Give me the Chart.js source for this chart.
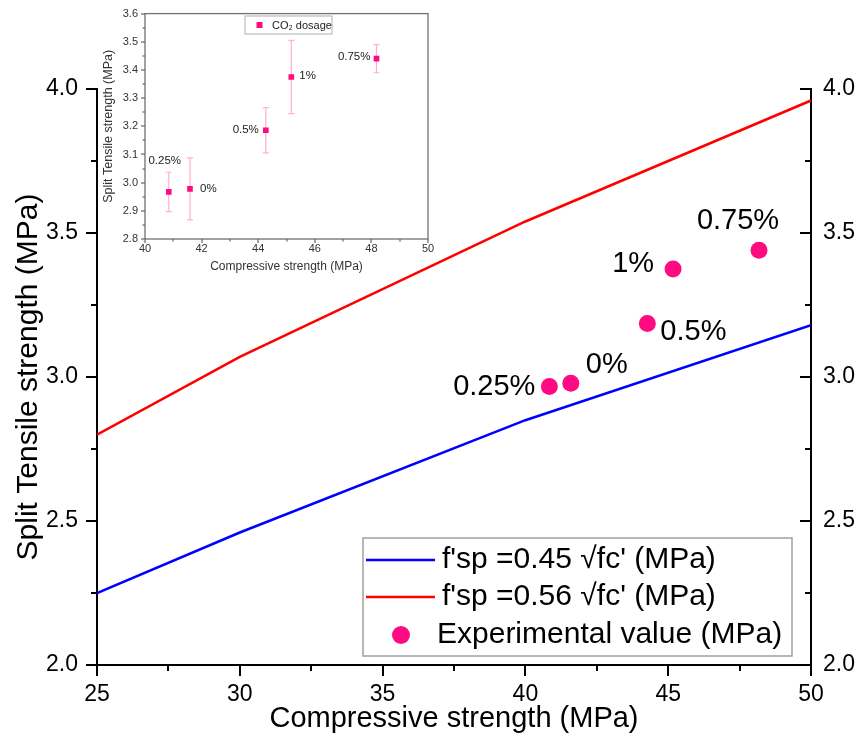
<!DOCTYPE html>
<html>
<head>
<meta charset="utf-8">
<script src="https://cdn.jsdelivr.net/npm/chart.js@4.4.1/dist/chart.umd.min.js"></script>
<style>
  html, body { margin: 0; padding: 0; background: #fff; }
  #wrap { position: relative; width: 858px; height: 746px; }
  #mainChart { position: absolute; left: 0; top: 0; }
  #insetChart { position: absolute; left: 90px; top: 0; }
</style>
</head>
<body>
<div id="wrap">
  <canvas id="mainChart" width="858" height="746"></canvas>
  <canvas id="insetChart" width="350" height="280"></canvas>
</div>
<script>
// Data
const fcLine = [25, 30, 40, 50];
const fsp045 = [2.25, 2.46, 2.85, 3.18];
const fsp056 = [2.80, 3.07, 3.54, 3.96];

const dosage = ['0.25%', '0%', '0.5%', '1%', '0.75%'];
const compStrength = [40.84, 41.59, 44.27, 45.17, 48.18];
const splitStrength = [2.967, 2.978, 3.186, 3.375, 3.44];
const splitErr = [0.07, 0.11, 0.08, 0.13, 0.05];

const lineLabels = ["f'sp =0.45 \u221Afc' (MPa)", "f'sp =0.56 \u221Afc' (MPa)", 'Experimental value (MPa)'];
const insetLegend = 'CO\u2082 dosage';

const FONT = "'Liberation Sans', Arial, sans-serif";
const PINK = '#ff0a80';

function pts(xs, ys) {
  return xs.map((x, i) => ({ x: x, y: ys[i] }));
}

// label placement (dx, dy, align) for the dosage labels
const mainLabelPos = [[-14, 0, 'right'], [15, -18, 'left'], [13, 9, 'left'], [-19, -5, 'right'], [-21, -29, 'center']];
const insetLabelPos = [[-4, -31, 'center'], [10, 0, 'left'], [-7, 0, 'right'], [8, -1, 'left'], [-6, -2, 'right']];

function drawTickSet(ctx, scale, from, to, step, len, side) {
  const area = scale.chart.chartArea;
  for (let v = from; v <= to + 1e-9; v += step) {
    const p = Math.round(scale.getPixelForValue(v));
    ctx.beginPath();
    if (side === 'bottom') { ctx.moveTo(p, area.bottom); ctx.lineTo(p, area.bottom + len); }
    else if (side === 'left') { ctx.moveTo(area.left - len, p); ctx.lineTo(area.left, p); }
    else { ctx.moveTo(area.right - len, p); ctx.lineTo(area.right, p); }
    ctx.stroke();
  }
}

/* main chart: ticks, legend, point labels */
const mainExtras = {
  id: 'mainExtras',
  afterDraw(chart) {
    const ctx = chart.ctx;
    const s = chart.scales;
    ctx.save();
    ctx.strokeStyle = '#000';
    ctx.lineWidth = 2;
    drawTickSet(ctx, s.x, 25, 50, 5, 11, 'bottom');
    drawTickSet(ctx, s.x, 27.5, 47.5, 5, 6, 'bottom');
    drawTickSet(ctx, s.y, 2, 4, 0.5, 11, 'left');
    drawTickSet(ctx, s.y, 2.25, 3.75, 0.5, 6, 'left');
    drawTickSet(ctx, s.y2, 2, 4, 0.5, 11, 'right');
    drawTickSet(ctx, s.y2, 2.25, 3.75, 0.5, 6, 'right');

    // point labels
    const meta = chart.getDatasetMeta(2);
    ctx.fillStyle = '#000';
    ctx.font = '29px ' + FONT;
    ctx.textBaseline = 'middle';
    meta.data.forEach((el, i) => {
      const o = mainLabelPos[i];
      ctx.textAlign = o[2];
      ctx.fillText(dosage[i], el.x + o[0], el.y + o[1]);
    });

    // legend box
    ctx.fillStyle = '#fff';
    ctx.fillRect(363, 538, 429, 118);
    ctx.strokeStyle = '#a0a0a0';
    ctx.lineWidth = 1.5;
    ctx.strokeRect(363, 538, 429, 118);
    ctx.font = '30px ' + FONT;
    const rows = [560, 597, 635];
    chart.data.datasets.forEach((ds, i) => {
      const y = rows[i];
      if (i < 2) {
        ctx.strokeStyle = ds.borderColor;
        ctx.lineWidth = 2.5;
        ctx.beginPath();
        ctx.moveTo(366, y);
        ctx.lineTo(435, y);
        ctx.stroke();
      } else {
        ctx.fillStyle = ds.backgroundColor;
        ctx.beginPath();
        ctx.arc(401, y, 9, 0, Math.PI * 2);
        ctx.fill();
      }
      ctx.fillStyle = '#000';
      ctx.textAlign = 'left';
      ctx.fillText(ds.label, i < 2 ? 442 : 437, y);
    });
    ctx.restore();
  }
};

const axisFont = { family: FONT, size: 23 };
const noGrid = { display: false, drawTicks: false };

const mainChart = new Chart(document.getElementById('mainChart'), {
  type: 'scatter',
  data: {
    datasets: [{
      label: lineLabels[0],
      data: pts(fcLine, fsp045),
      showLine: true,
      borderColor: '#0000ff',
      borderWidth: 2.5,
      pointRadius: 0,
      yAxisID: 'y'
    }, {
      label: lineLabels[1],
      data: pts(fcLine, fsp056),
      showLine: true,
      borderColor: '#ff0000',
      borderWidth: 2.5,
      pointRadius: 0,
      yAxisID: 'y'
    }, {
      label: lineLabels[2],
      data: pts(compStrength, splitStrength),
      backgroundColor: PINK,
      borderWidth: 0,
      pointRadius: 8.5,
      yAxisID: 'y'
    }]
  },
  options: {
    responsive: false,
    animation: false,
    devicePixelRatio: 1,
    layout: { padding: { top: 89, left: 0, right: 0, bottom: 0 } },
    plugins: { legend: { display: false }, tooltip: { enabled: false } },
    scales: {
      x: {
        type: 'linear', min: 25, max: 50,
        ticks: { stepSize: 5, color: '#000', font: axisFont, padding: 16, maxRotation: 0 },
        grid: noGrid,
        border: { display: true, color: '#000', width: 2 },
        title: { display: true, text: 'Compressive strength (MPa)', color: '#000', font: { family: FONT, size: 29 }, padding: { top: 0, bottom: 10 } },
        afterFit: s => { s.height = 81; }
      },
      y: {
        type: 'linear', position: 'left', min: 2, max: 4,
        ticks: { stepSize: 0.5, color: '#000', font: axisFont, padding: 19, callback: v => v.toFixed(1) },
        grid: noGrid,
        border: { display: true, color: '#000', width: 2 },
        title: { display: true, text: 'Split Tensile strength (MPa)', color: '#000', font: { family: FONT, size: 30 }, padding: { top: 11, bottom: 0 } },
        afterFit: s => { s.width = 97; }
      },
      y2: {
        type: 'linear', position: 'right', min: 2, max: 4,
        ticks: { stepSize: 0.5, color: '#000', font: axisFont, padding: 12, callback: v => v.toFixed(1) },
        grid: noGrid,
        border: { display: true, color: '#000', width: 2 },
        afterFit: s => { s.width = 47; }
      }
    }
  },
  plugins: [mainExtras]
});

/* inset chart: error bars, box, ticks, labels, legend */
const insetExtras = {
  id: 'insetExtras',
  beforeDatasetsDraw(chart) {
    const ctx = chart.ctx;
    const sx = chart.scales.x, sy = chart.scales.y;
    ctx.save();
    ctx.strokeStyle = '#ffb0d2';
    ctx.lineWidth = 1.2;
    compStrength.forEach((c, i) => {
      const x = sx.getPixelForValue(c);
      const yt = sy.getPixelForValue(splitStrength[i] + splitErr[i]);
      const yb = sy.getPixelForValue(splitStrength[i] - splitErr[i]);
      ctx.beginPath();
      ctx.moveTo(x, yt); ctx.lineTo(x, yb);
      ctx.moveTo(x - 3, yt); ctx.lineTo(x + 3, yt);
      ctx.moveTo(x - 3, yb); ctx.lineTo(x + 3, yb);
      ctx.stroke();
    });
    ctx.restore();
  },
  afterDraw(chart) {
    const ctx = chart.ctx;
    const s = chart.scales;
    const a = chart.chartArea;
    ctx.save();
    ctx.strokeStyle = '#707070';
    ctx.lineWidth = 1.3;
    ctx.strokeRect(a.left, a.top, a.right - a.left, a.bottom - a.top);
    drawTickSet(ctx, s.x, 40, 50, 2, 4, 'bottom');
    drawTickSet(ctx, s.x, 41, 49, 2, 2.5, 'bottom');
    drawTickSet(ctx, s.y, 2.8, 3.6, 0.1, 4, 'left');
    drawTickSet(ctx, s.y, 2.85, 3.55, 0.1, 2.5, 'left');

    const meta = chart.getDatasetMeta(0);
    ctx.fillStyle = '#222';
    ctx.font = '11.5px ' + FONT;
    ctx.textBaseline = 'middle';
    meta.data.forEach((el, i) => {
      const o = insetLabelPos[i];
      ctx.textAlign = o[2];
      ctx.fillText(dosage[i], el.x + o[0], el.y + o[1]);
    });

    // legend
    ctx.fillStyle = '#fff';
    ctx.fillRect(155, 16, 87, 18);
    ctx.strokeStyle = '#b0b0b0';
    ctx.lineWidth = 1;
    ctx.strokeRect(155, 16, 87, 18);
    ctx.fillStyle = PINK;
    ctx.fillRect(166.5, 22, 6, 6);
    ctx.fillStyle = '#222';
    ctx.font = '11px ' + FONT;
    ctx.textAlign = 'left';
    ctx.fillText(chart.data.datasets[0].label, 182, 25.5);
    ctx.restore();
  }
};

const insetChart = new Chart(document.getElementById('insetChart'), {
  type: 'scatter',
  data: {
    datasets: [{
      label: insetLegend,
      data: pts(compStrength, splitStrength),
      backgroundColor: PINK,
      borderWidth: 0,
      pointStyle: 'rect',
      pointRadius: 4
    }]
  },
  options: {
    responsive: false,
    animation: false,
    devicePixelRatio: 1,
    layout: { padding: { top: 11, right: 12, left: 0, bottom: 0 } },
    plugins: { legend: { display: false }, tooltip: { enabled: false } },
    scales: {
      x: {
        type: 'linear', min: 40, max: 50,
        ticks: { stepSize: 2, color: '#333', font: { family: FONT, size: 11 }, padding: 3, maxRotation: 0 },
        grid: noGrid,
        border: { display: false },
        title: { display: true, text: 'Compressive strength (MPa)', color: '#333', font: { family: FONT, size: 12 }, padding: { top: 0, bottom: 6 } },
        afterFit: s => { s.height = 41; }
      },
      y: {
        type: 'linear', min: 2.8, max: 3.6,
        ticks: { stepSize: 0.1, color: '#333', font: { family: FONT, size: 11 }, padding: 7, callback: v => v.toFixed(1) },
        grid: noGrid,
        border: { display: false },
        title: { display: true, text: 'Split Tensile strength (MPa)', color: '#333', font: { family: FONT, size: 12.5 }, padding: { top: 11, bottom: 0 } },
        afterFit: s => { s.width = 55; }
      }
    }
  },
  plugins: [insetExtras]
});
</script>
</body>
</html>
